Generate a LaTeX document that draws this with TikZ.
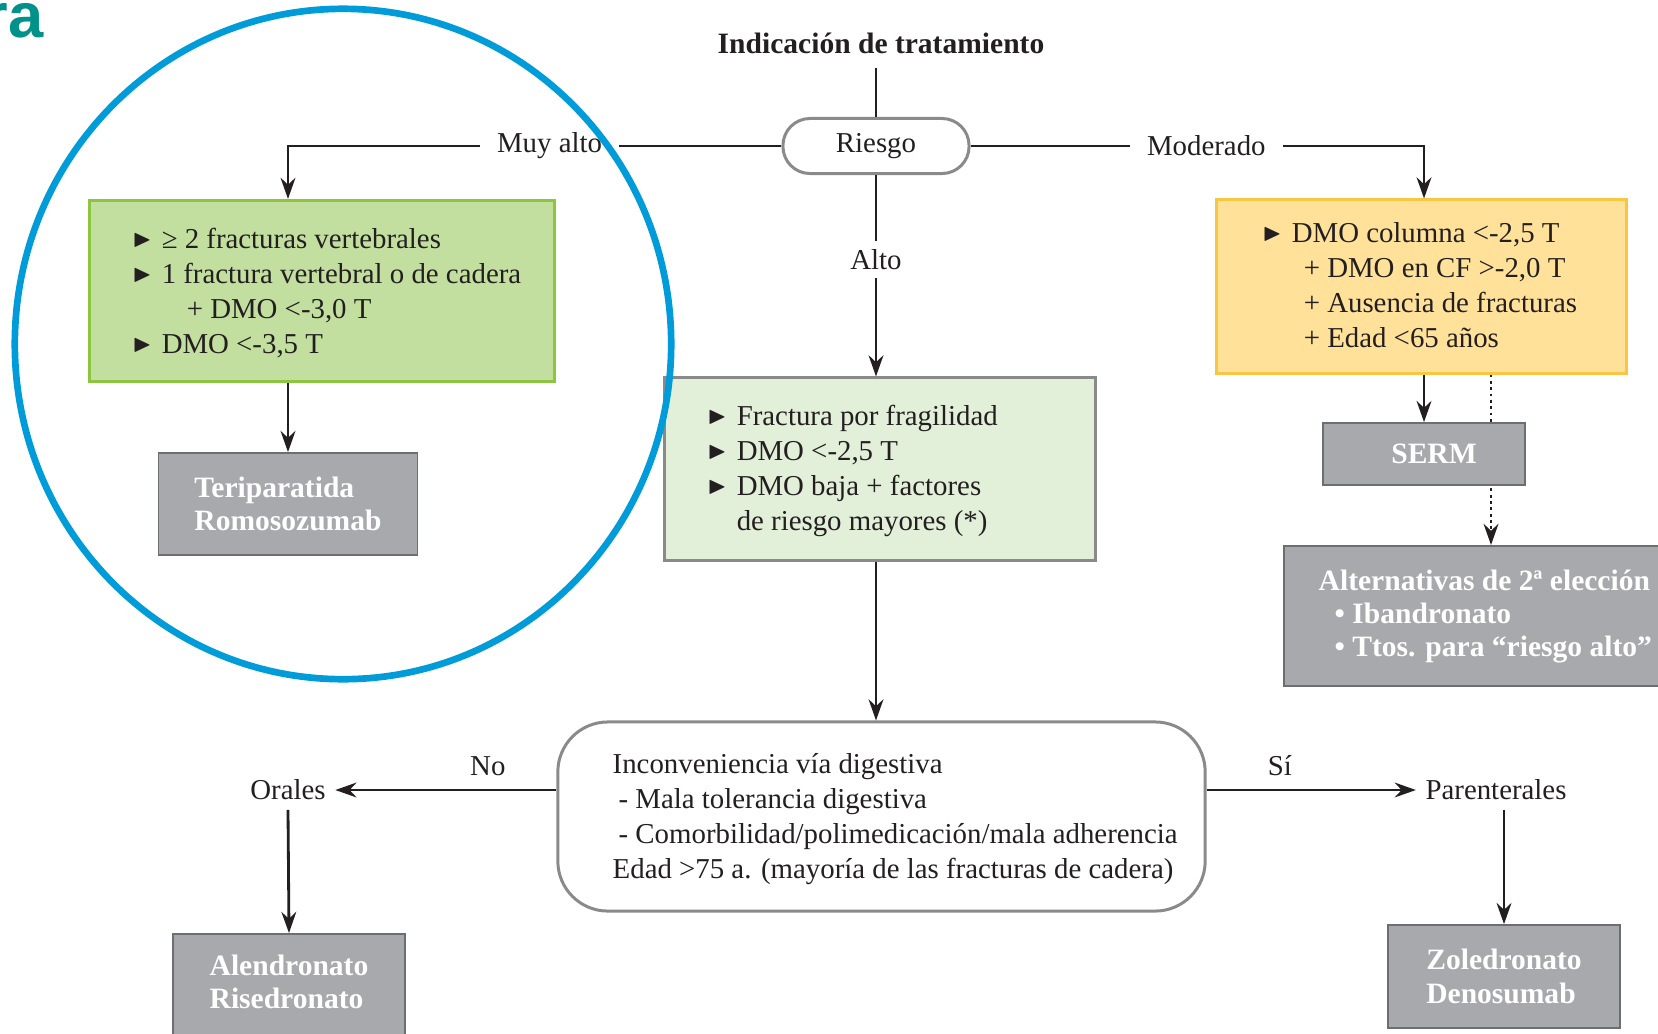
\documentclass[tikz,border=0pt]{standalone}
\usepackage{amssymb}
\usepackage{fontspec}
\setmainfont{Liberation Serif}
\newfontfamily\brandfont{Liberation Sans}
\usetikzlibrary{arrows.meta}
\definecolor{ink}{HTML}{231F20}
\definecolor{leafgreen}{HTML}{C2DFA0}
\definecolor{leafedge}{HTML}{8CC63F}
\definecolor{palegreen}{HTML}{E2EFD9}
\definecolor{sand}{HTML}{FFE199}
\definecolor{sandedge}{HTML}{F9C641}
\definecolor{drug}{HTML}{A7A9AC}
\definecolor{drugedge}{HTML}{6D6E71}
\definecolor{boxedge}{HTML}{8A8A8A}
\definecolor{ring}{HTML}{009BD9}
\definecolor{brandteal}{HTML}{00918A}
\newcommand{\trimark}{\raisebox{0.06em}{\scalebox{0.85}{$\blacktriangleright$}}\hspace{0.1cm}}

\begin{document}
\begin{tikzpicture}[x=0.01cm,y=-0.01cm,>={Stealth[length=6pt,width=4.2pt]},
  every node/.style={text=ink},
  conn/.style={draw=ink,line width=0.8pt},
  txt/.style={font=\fontsize{8.2}{9.96}\selectfont,align=left,inner sep=0pt},
  cut/.style={txt,fill=white,inner xsep=0.17cm,inner ysep=0.08cm},
  drugbox/.style={draw=drugedge,line width=0.5pt,fill=drug,text=white,
    font=\fontsize{8.4}{9.5}\selectfont\bfseries,align=left}]
\useasboundingbox (0,0) rectangle (1658,1033);
\clip (0,0) rectangle (1658,1033);

\node[anchor=base east,inner sep=0pt,text=brandteal,
  font=\brandfont\bfseries\fontsize{18}{20}\selectfont] (brand) at (44,37) {ra};
\node[anchor=base,inner xsep=0pt,inner ysep=0.14cm,
  font=\fontsize{8.4}{10}\selectfont\bfseries] (title) at (881,53) {Indicación de tratamiento};
\node[txt,draw=boxedge,line width=0.85pt,fill=white,rounded corners=0.27cm,
  minimum width=1.86cm,minimum height=0.55cm] (riesgo) at (876,146) {Riesgo};

% muy alto
\node[draw=leafedge,fill=leafgreen,line width=0.85pt,minimum width=4.65cm,minimum height=1.81cm] (veryhigh) at (322,291) {};
\node[txt,anchor=west] (vhtext) at (132,293) {\trimark ≥ 2 fracturas vertebrales\\
  \trimark 1 fractura vertebral o de cadera\\
  \hphantom{\trimark}\hspace*{0.25cm}+ DMO <-3,0 T\\
  \trimark DMO <-3,5 T};
\node[drugbox,minimum width=2.59cm,minimum height=1.02cm] (terip) at (288,504) {Teriparatida\\Romosozumab};

% alto
\node[draw=boxedge,fill=palegreen,line width=0.85pt,minimum width=4.3cm,minimum height=1.82cm] (high) at (880,469) {};
\node[txt,anchor=west] (hightext) at (707,471) {\trimark Fractura por fragilidad\\
  \trimark DMO <-2,5 T\\
  \trimark DMO baja + factores\\
  \hphantom{\trimark}de riesgo mayores (*)};

% moderado
\node[draw=sandedge,fill=sand,line width=0.85pt,minimum width=4.09cm,minimum height=1.73cm] (moderate) at (1421.5,286.5) {};
\node[txt,anchor=west] (modtext) at (1262,285) {\trimark DMO columna <-2,5 T\\
  \hphantom{\trimark}\hspace*{0.12cm}+ DMO en CF >-2,0 T\\
  \hphantom{\trimark}\hspace*{0.12cm}+ Ausencia de fracturas\\
  \hphantom{\trimark}\hspace*{0.12cm}+ Edad <65 años};
\node[drugbox,anchor=north west,minimum width=4.1cm,minimum height=1.4cm] (altern) at (1283,545) {};
\node[txt,anchor=west,text=white,font=\fontsize{8.4}{9.5}\selectfont\bfseries] (alttext) at (1318,616.5) {Alternativas de 2ª elección\\
  \hspace*{0.16cm}• Ibandronato\\
  \hspace*{0.16cm}• Ttos. para “riesgo alto”};
\coordinate (second) at (1491,0);
\draw[conn,densely dotted,->] (moderate.south -| second) -- (altern.north -| second);
\node[drugbox,minimum width=2.02cm,minimum height=0.62cm] (serm) at (1424,454) {\hspace*{0.2cm}SERM};

% via
\node[draw=boxedge,line width=0.85pt,fill=white,rounded corners=0.5cm,minimum width=6.47cm,minimum height=1.89cm] (route) at (881.5,816.5) {};
\node[txt,anchor=west] (routetext) at (612,819) {Inconveniencia vía digestiva\\
  \hspace*{0.06cm}- Mala tolerancia digestiva\\
  \hspace*{0.06cm}- Comorbilidad/polimedicación/mala adherencia\\
  Edad >75 a. (mayoría de las fracturas de cadera)};
\node[txt,inner sep=0.09cm] (oral) at (288,790) {Orales};
\node[txt,inner sep=0.09cm] (parent) at (1496,790) {Parenterales};
\node[drugbox,anchor=north,minimum width=2.32cm,minimum height=1.2cm] (alend) at (289,933) {};
\node[drugbox,draw=none,fill=none,inner sep=0pt] (alendtext) at (289,982) {Alendronato\\Risedronato};
\node[drugbox,minimum width=2.32cm,minimum height=1.03cm] (zoled) at (1504,976.5) {Zoledronato\\Denosumab};

\draw[conn] (riesgo.north |- title.south) -- (riesgo.north);
\draw[conn,->] (riesgo.west) -| node[cut,pos=0.235] (vhlabel) {Muy alto} (terip |- veryhigh.north);
\draw[conn,->] (riesgo.east) -| node[cut,pos=0.26] (modlabel) {Moderado} (serm |- moderate.north);
\draw[conn,->] (riesgo.south) -- node[cut,pos=0.42] (hlabel) {Alto} (riesgo.south |- high.north);
\draw[conn,->] (veryhigh.south -| terip) -- (terip.north);
\draw[conn,->] (moderate.south -| serm) -- (serm.north);
\draw[conn,->] (high.south -| riesgo) -- (route.north -| riesgo);
\draw[conn,->] (route.west |- oral) -- node[txt,above=0.13cm,pos=0.31] (nolabel) {No} (oral.east);
\draw[conn,->] (route.east |- parent) -- node[txt,above=0.13cm,pos=0.35] (silabel) {Sí} (parent.west);
\draw[conn,->] (oral.south) -- (alend.north);
\draw[conn,->] (zoled |- parent.south) -- (zoled.north);

\draw[ring,line width=1.9pt] (343,344) ellipse[x radius=3.28cm,y radius=3.35cm];
\end{tikzpicture}
\end{document}
